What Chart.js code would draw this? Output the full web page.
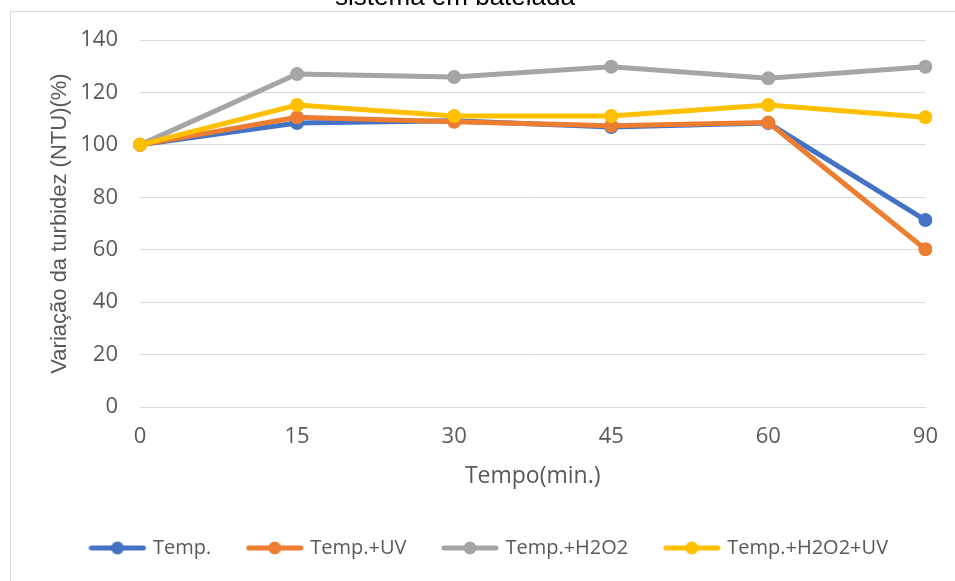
<!DOCTYPE html>
<html>
<head>
<meta charset="utf-8">
<script src="https://cdn.jsdelivr.net/npm/chart.js@4"></script>
<style>
  html, body { margin: 0; padding: 0; background: #fff; overflow: hidden; }
  #wrap { position: relative; width: 955px; height: 581px; }
  #frame { position: absolute; left: 10px; top: 11px; width: 960px; height: 600px;
           border-left: 1px solid #d9d9d9; border-top: 1px solid #d9d9d9; }
  canvas { position: absolute; left: 0; top: 0; }
</style>
</head>
<body>
<div id="wrap">
  <div id="frame"></div>
  <canvas id="line-chart" width="955" height="581"></canvas>
</div>
<script>
let tempos = ['0', '15', '30', '45', '60', '90'];
let temp = [100, 108.3, 109.2, 106.8, 108.3, 71.3];
let tempUV = [100, 110.5, 108.8, 107.3, 108.5, 60.2];
let tempH2O2 = [100, 127.0, 125.9, 129.8, 125.4, 129.8];
let tempH2O2UV = [100, 115.2, 111.0, 111.0, 115.2, 110.5];
let yTicks = [0, 20, 40, 60, 80, 100, 120, 140];

let cinza = '#595959';

// little line + dot used as legend symbol
function legendMark(color) {
  let c = document.createElement('canvas');
  c.width = 58;
  c.height = 16;
  let g = c.getContext('2d');
  g.strokeStyle = color;
  g.lineWidth = 5;
  g.lineCap = 'round';
  g.beginPath();
  g.moveTo(3, 8);
  g.lineTo(55, 8);
  g.stroke();
  g.fillStyle = color;
  g.beginPath();
  g.arc(29, 8, 6.5, 0, Math.PI * 2);
  g.fill();
  return c;
}

function serie(label, data, color, order) {
  return {
    label: label,
    data: data,
    borderColor: color,
    backgroundColor: color,
    borderWidth: 5,
    pointRadius: 7,
    pointBorderWidth: 0,
    pointBackgroundColor: color,
    pointStyle: 'circle',
    fill: false,
    tension: 0,
    order: order
  };
}

// the cut-off title at the very top
let tituloCortado = {
  id: 'tituloCortado',
  afterDraw(chart) {
    let ctx = chart.ctx;
    ctx.save();
    ctx.font = '26px "Liberation Sans", Arial, sans-serif';
    ctx.fillStyle = '#000';
    ctx.textAlign = 'center';
    ctx.textBaseline = 'alphabetic';
    ctx.fillText('sistema em batelada', 455, 5);
    ctx.restore();
  }
};

let moveLegenda = {
  id: 'moveLegenda',
  afterLayout(chart) {
    chart.legend.left += 7;
    chart.legend.right += 7;
  }
};

let defaultLabels = Chart.defaults.plugins.legend.labels.generateLabels;

new Chart(document.getElementById('line-chart'), {
  type: 'line',
  data: {
    labels: tempos,
    datasets: [
      serie('Temp.', temp, '#4472C4', 4),
      serie('Temp.+UV', tempUV, '#ED7D31', 3),
      serie('Temp.+H2O2', tempH2O2, '#A5A5A5', 2),
      serie('Temp.+H2O2+UV', tempH2O2UV, '#FFC000', 1)
    ]
  },
  plugins: [tituloCortado, moveLegenda],
  options: {
    responsive: false,
    animation: false,
    events: [],
    layout: { padding: { left: 40, right: 29, top: 40, bottom: 13 } },
    scales: {
      x: {
        type: 'category',
        offset: false,
        afterFit: (s) => { s.height = 93; },
        grid: { display: false, drawTicks: false },
        border: { display: true, color: '#d9d9d9', width: 1 },
        ticks: { padding: 17, color: cinza, font: { family: '"Open Sans"', size: 22 } },
        title: {
          display: true,
          text: 'Tempo(min.)',
          color: cinza,
          padding: { top: 0, bottom: 10 },
          font: { family: '"Open Sans"', size: 23 }
        }
      },
      y: {
        min: 0,
        max: 140,
        afterFit: (s) => { s.width = 100; },
        afterBuildTicks: (s) => { s.ticks = yTicks.map(v => ({ value: v })); },
        grid: { color: '#d9d9d9', lineWidth: 1, drawTicks: false },
        border: { display: false },
        ticks: { padding: 22, color: cinza, font: { family: '"Open Sans"', size: 22 } },
        title: {
          display: true,
          text: 'Variação da turbidez (NTU)(%)',
          color: cinza,
          padding: { top: 7, bottom: 0 },
          font: { family: '"Liberation Sans"', size: 22 }
        }
      }
    },
    plugins: {
      title: { display: false },
      tooltip: { enabled: false },
      legend: {
        display: true,
        position: 'bottom',
        labels: {
          usePointStyle: true,
          pointStyleWidth: 51,
          padding: 38,
          color: cinza,
          font: { family: '"Open Sans"', size: 20 },
          sort: (a, b) => a.datasetIndex - b.datasetIndex,
          generateLabels: (chart) => defaultLabels(chart).map(item => {
            item.pointStyle = legendMark(chart.data.datasets[item.datasetIndex].borderColor);
            return item;
          })
        }
      }
    }
  }
});
</script>
</body>
</html>
